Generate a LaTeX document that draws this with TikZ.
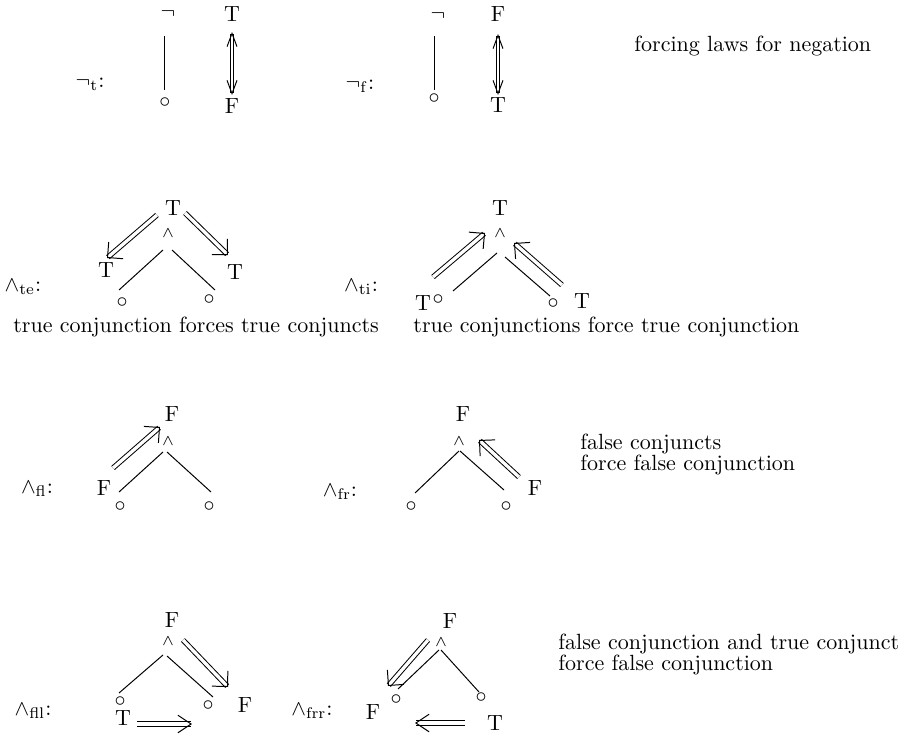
\documentclass[tikz,border=0pt]{standalone}
\usetikzlibrary{arrows.meta}
\begin{document}
\begin{tikzpicture}[x=0.4545pt,y=-0.4545pt,
  every node/.style={inner sep=0pt},
  sym/.style={font=\scriptsize},
  tr/.style={line width=0.45pt},
  dbl/.style={double, double distance=1.5pt, line width=0.45pt,
    -{Straight Barb[length=5pt,width=10pt,line width=0.45pt]}},
  vdbl/.style={double, double distance=1.3pt, line width=0.45pt,
    {Straight Barb[length=6pt,width=4.5pt,line width=0.45pt]}-{Straight Barb[length=6pt,width=4.5pt,line width=0.45pt]}},
  hdbl/.style={double, double distance=1.8pt, line width=0.45pt,
    -{Straight Barb[length=6pt,width=8pt,line width=0.45pt]}},
  txt/.style={anchor=west}]
\useasboundingbox (0,0) rectangle (924,736);

% ---------- row 1 ----------
\node (L1) at (90,84) {$\neg_{\mathrm{t}}$:};
\node (N1) at (168,14) {$\neg$};
\node (C1) at (165,103) {$\circ$};
\node (T1) at (232,14) {T};
\node (F1) at (232,106) {F};
\draw[tr] ([shift={(-4,22)}]N1.center) -- ([shift={(-1,-13)}]C1.center);
\draw[vdbl] ([shift={(0,18)}]T1.center) -- ([shift={(0,-11)}]F1.center);

\node (L2) at (360,86) {$\neg_{\mathrm{f}}$:};
\node (N2) at (438,16) {$\neg$};
\node (C2) at (434,99) {$\circ$};
\node (F2t) at (498,14) {F};
\node (T2b) at (498,105) {T};
\draw[tr] ([shift={(-4,20)}]N2.center) -- ([shift={(0,-9)}]C2.center);
\draw[vdbl] ([shift={(0,20)}]F2t.center) -- ([shift={(0,-10)}]T2b.center);

\node[txt] (X1) at (634,46) {forcing laws for negation};

% ---------- row 2 ----------
\node (L3) at (23,287) {$\wedge_{\mathrm{te}}$:};
\node (T0) at (173,208) {T};
\node[sym] (A0) at (168,233) {$\wedge$};
\node (Tl) at (106,270) {T};
\node (Tr) at (235,272) {T};
\node (Cl) at (122,303) {$\circ$};
\node (Cr) at (209,300) {$\circ$};
\draw[tr] ([shift={(-5,17)}]A0.center) -- ([shift={(-3,-13)}]Cl.center);
\draw[tr] ([shift={(4,17)}]A0.center) -- ([shift={(6,-10)}]Cr.center);
\draw[dbl] ([shift={(-16,7)}]T0.center) -- ([shift={(1,-12)}]Tl.center);
\draw[dbl] ([shift={(12,5)}]T0.center) -- ([shift={(-7,-17)}]Tr.center);
\node[txt] (X2) at (13,327) {true conjunction forces true conjuncts};

\node (L4) at (361,287) {$\wedge_{\mathrm{ti}}$:};
\node (T0b) at (500,208) {T};
\node[sym] (A0b) at (500,233) {$\wedge$};
\node (Tlb) at (423,303) {T};
\node (Clb) at (438,300) {$\circ$};
\node (Crb) at (553,304) {$\circ$};
\node (Trb) at (582,301) {T};
\draw[tr] ([shift={(-3,20)}]A0b.center) -- ([shift={(15,-9)}]Clb.center);
\draw[tr] ([shift={(5,24)}]A0b.center) -- ([shift={(-3,-8)}]Crb.center);
\draw[dbl] ([shift={(10,-26)}]Tlb.center) -- ([shift={(-15,0)}]A0b.center);
\draw[dbl] ([shift={(-20,-16)}]Trb.center) -- ([shift={(14,10)}]A0b.center);
\node[txt] (X3) at (413,327) {true conjunctions force true conjunction};

% ---------- row 3 ----------
\node (L5) at (37,489) {$\wedge_{\mathrm{fl}}$:};
\node (F0) at (172,414) {F};
\node[sym] (A1) at (168,441) {$\wedge$};
\node (Cl1) at (120,507) {$\circ$};
\node (Cr1) at (209,507) {$\circ$};
\node (Fl1) at (104,488) {F};
\draw[tr] ([shift={(-5,11)}]A1.center) -- ([shift={(-1,-15)}]Cl1.center);
\draw[tr] ([shift={(-1,11)}]A1.center) -- ([shift={(2,-15)}]Cr1.center);
\draw[dbl] ([shift={(9,-20)}]Fl1.center) -- ([shift={(-8,-14)}]A1.center);

\node (L6) at (340,492) {$\wedge_{\mathrm{fr}}$:};
\node (F0r) at (463,414) {F};
\node[sym] (A1r) at (459,441) {$\wedge$};
\node (Cl1r) at (411,507) {$\circ$};
\node (Cr1r) at (506,507) {$\circ$};
\node (Fr1) at (535,488) {F};
\draw[tr] ([shift={(0,10)}]A1r.center) -- ([shift={(4,-14)}]Cl1r.center);
\draw[tr] ([shift={(1,10)}]A1r.center) -- ([shift={(-2,-17)}]Cr1r.center);
\draw[dbl] ([shift={(-16,-11)}]Fr1.center) -- ([shift={(20,-1)}]A1r.center);

\node[txt] (X4) at (580,444) {false conjuncts};
\node[txt] (X5) at (580,465) {force false conjunction};

% ---------- row 4 ----------
\node (L7) at (33,711) {$\wedge_{\mathrm{fll}}$:};
\node (F2) at (172,620) {F};
\node[sym] (A2) at (168,641) {$\wedge$};
\node (Cl2) at (120,702) {$\circ$};
\node (Cr2) at (208,706) {$\circ$};
\node (Fr2) at (245,705) {F};
\node (Tb2) at (123,718) {T};
\coordinate (H2) at (192,724);
\draw[tr] ([shift={(-5,14)}]A2.center) -- ([shift={(-1,-9)}]Cl2.center);
\draw[tr] ([shift={(-1,15)}]A2.center) -- ([shift={(5,-9)}]Cr2.center);
\draw[dbl] ([shift={(15,-1)}]A2.center) -- ([shift={(-17,-18)}]Fr2.center);
\draw[hdbl] ([shift={(14,6)}]Tb2.center) -- (H2);

\node (L8) at (312,711) {$\wedge_{\mathrm{frr}}$:};
\node (F3) at (450,621) {F};
\node[sym] (A3) at (441,642) {$\wedge$};
\node (Cl3) at (396,700) {$\circ$};
\node (Cr3) at (481,698) {$\circ$};
\node (Fl3) at (373,712) {F};
\node (Tr3) at (495,723) {T};
\coordinate (H3) at (415,723);
\draw[tr] ([shift={(-2,8)}]A3.center) -- ([shift={(2,-11)}]Cl3.center);
\draw[tr] ([shift={(0,8)}]A3.center) -- ([shift={(-2,-6)}]Cr3.center);
\draw[dbl] ([shift={(-13,-2)}]A3.center) -- ([shift={(-8,-14)}]Cl3.center);
\draw[hdbl] ([shift={(-30,0)}]Tr3.center) -- (H3);

\node[txt] (X6) at (558,644) {false conjunction and true conjunct};
\node[txt] (X7) at (558,665) {force false conjunction};
\end{tikzpicture}
\end{document}
